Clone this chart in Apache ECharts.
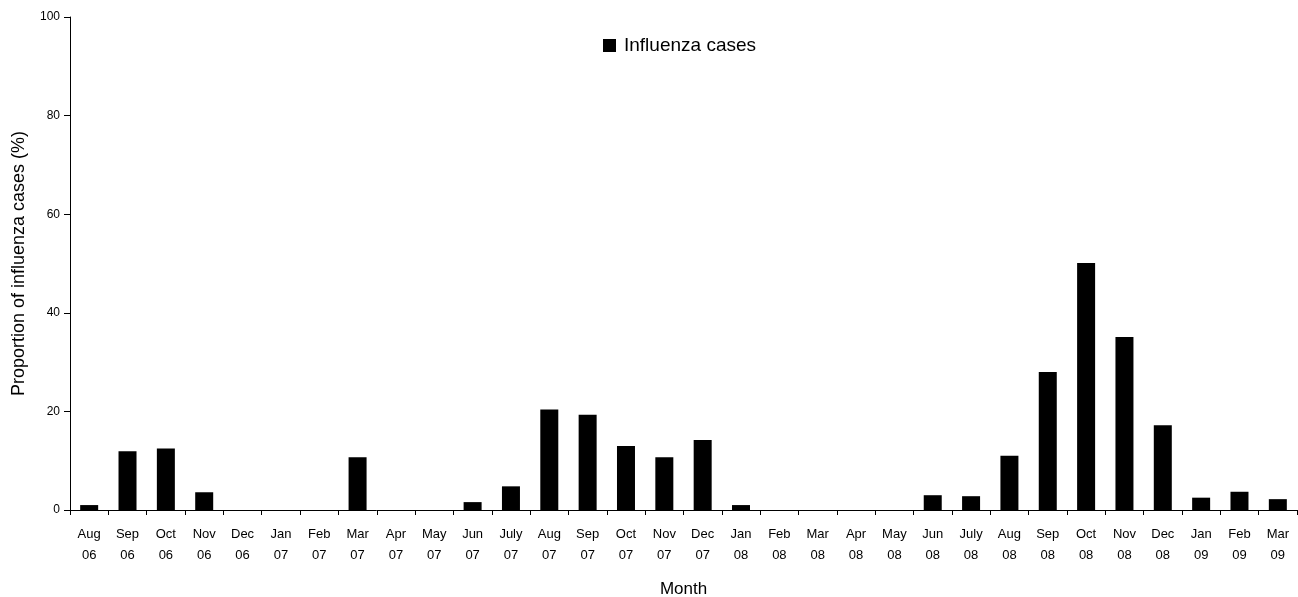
<!DOCTYPE html>
<html>
<head>
<meta charset="utf-8">
<script src="https://cdn.jsdelivr.net/npm/echarts@6/dist/echarts.min.js"></script>
<style>
html,body{margin:0;padding:0;background:#fff;}
#main{width:1298px;height:597px;}
</style>
</head>
<body>
<div id="main"></div>
<script>
var months = ['Aug\n06','Sep\n06','Oct\n06','Nov\n06','Dec\n06','Jan\n07','Feb\n07','Mar\n07','Apr\n07','May\n07',
	'Jun\n07','July\n07','Aug\n07','Sep\n07','Oct\n07','Nov\n07','Dec\n07','Jan\n08','Feb\n08','Mar\n08',
	'Apr\n08','May\n08','Jun\n08','July\n08','Aug\n08','Sep\n08','Oct\n08','Nov\n08','Dec\n08','Jan\n09',
	'Feb\n09','Mar\n09'];
var influenza = [1.0, 11.9, 12.5, 3.6, 0, 0, 0, 10.7, 0, 0,
	1.6, 4.8, 20.4, 19.3, 13.0, 10.7, 14.2, 1.0, 0, 0,
	0, 0, 3.0, 2.8, 11.0, 28.0, 50.1, 35.1, 17.2, 2.5,
	3.7, 2.2];
var yTicks = [0, 20, 40, 60, 80, 100];

var chart = echarts.init(document.getElementById('main'));
var font = 'Liberation Sans, Arial, sans-serif';
var option = {
	animation: false,
	textStyle: { fontFamily: font, color: '#000' },
	legend: {
		data: [{ name: 'Influenza cases', icon: 'rect' }],
		left: 603,
		top: 36,
		padding: 0,
		itemWidth: 13,
		itemHeight: 13,
		itemGap: 4,
		textStyle: { fontSize: 19, color: '#000', fontFamily: font, padding: [0, 0, 0, 3] }
	},
	grid: { left: 70, right: 1, top: 17, bottom: 87, containLabel: false, outerBoundsMode: 'none' },
	xAxis: {
		type: 'category',
		data: months,
		name: 'Month',
		nameLocation: 'middle',
		nameGap: 71,
		nameTextStyle: { fontSize: 17, color: '#000', fontFamily: font },
		axisLine: { lineStyle: { color: '#000', width: 1 } },
		axisTick: { show: true, length: 5, lineStyle: { color: '#000' } },
		axisLabel: { fontSize: 13, color: '#000', lineHeight: 21, margin: 14, interval: 0 }
	},
	yAxis: {
		type: 'value',
		min: 0,
		max: 100,
		interval: 20,
		name: 'Proportion of influenza cases (%)',
		nameLocation: 'middle',
		nameGap: 42,
		nameTextStyle: { fontSize: 18, color: '#000', fontFamily: font },
		axisLine: { show: true, lineStyle: { color: '#000', width: 1 } },
		axisTick: { show: true, length: 6, lineStyle: { color: '#000' } },
		axisLabel: {
			fontSize: 12, color: '#000', margin: 10,
			formatter: function (v) { return yTicks.indexOf(v) >= 0 ? String(v) : ''; }
		},
		splitLine: { show: false }
	},
	series: [{
		name: 'Influenza cases',
		type: 'bar',
		data: influenza,
		barWidth: 18,
		itemStyle: { color: '#000' }
	}]
};
chart.setOption(option);
</script>
</body>
</html>
